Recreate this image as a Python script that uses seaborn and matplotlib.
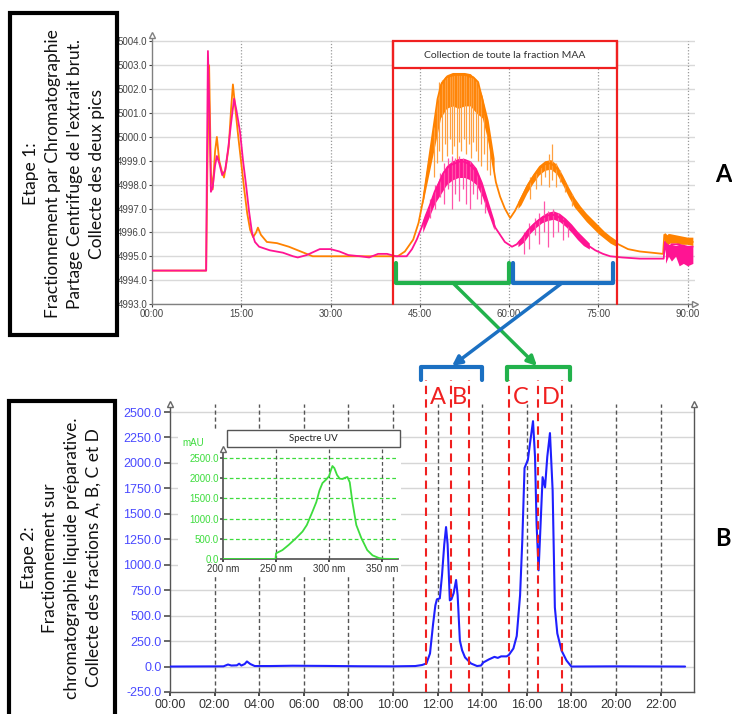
import matplotlib
matplotlib.use("Agg")
import matplotlib.pyplot as plt
import matplotlib.transforms as mtransforms
from matplotlib.patches import Rectangle
import seaborn as sns

W, H = 732, 714

# ---------- Etape 1 : CPC, temps en minutes ----------
orange_t = [0, 9.1, 9.3, 9.6, 9.9, 10.2, 10.6, 10.9, 11.3, 11.7, 12.1, 12.5, 12.9, 13.3,
            13.6, 14.0, 14.5, 15.0, 15.5, 16.0, 16.5, 17.0, 17.5, 17.8, 18.3, 19.3, 21,
            23, 25, 27, 30, 33, 36, 39, 41.3, 42.5, 43.9, 44.8, 45.6, 46.4, 47.2, 48.0,
            48.6, 49.5, 51, 52.5, 54, 54.8, 55.5, 56.2, 57.0, 57.8, 58.5, 59.3, 60.2, 61.0,
            62, 63, 64, 65, 66, 67, 68, 69, 70, 71, 72, 73, 74, 75, 76, 77, 78, 80, 82,
            84, 85.9, 86.1, 86.5, 86.9, 87.5, 88.5, 89.5, 90.9]
orange_v = [4994.4, 4994.4, 4998.5, 5003.0, 4998.5, 4997.8, 4999.4, 5000.0, 4999.0, 4998.6,
            4998.3, 4998.9, 4999.6, 5001.2, 5002.2, 5001.2, 5000.0, 4998.9, 4997.8, 4996.8,
            4996.1, 4995.8, 4996.0, 4996.2, 4995.9, 4995.6, 4995.55, 4995.4, 4995.2, 4995.0,
            4995.0, 4995.0, 4995.0, 4995.0, 4995.0, 4995.2, 4995.7, 4996.4, 4997.4, 4998.8,
            5000.2, 5001.6, 5002.2, 5002.5, 5002.6, 5002.6, 5002.5, 5002.3, 5001.6, 5000.6,
            4999.3, 4998.1, 4997.5, 4997.0, 4996.6, 4996.9, 4997.4, 4997.9, 4998.3, 4998.65,
            4998.85, 4998.9, 4998.7, 4998.25, 4997.75, 4997.3, 4996.95, 4996.65, 4996.4,
            4996.15, 4995.9, 4995.7, 4995.55, 4995.3, 4995.2, 4995.15, 4995.1, 4995.9,
            4995.6, 4995.9, 4995.7, 4995.75, 4995.65, 4995.6]

pink_t = [0, 9.1, 9.2, 9.4, 9.7, 9.9, 10.2, 10.6, 10.9, 11.3, 11.8, 12.3, 12.8, 13.3, 13.8,
          14.2, 14.8, 15.3, 15.8, 16.3, 16.8, 17.3, 18.0, 19.8, 22, 23.7, 24.5, 26, 28.2,
          30, 31.5, 33, 35, 36.5, 38, 39.5, 41, 42.8, 43.7, 44.5, 45.3, 46.0, 46.8, 47.5,
          48.3, 49.0, 50.0, 51.0, 52.0, 53.0, 54.0, 54.8, 55.5, 56.2, 57.0, 57.7, 58.5,
          59.3, 60.5, 61.3, 62.2, 63.2, 64.2, 65.2, 66.3, 67.3, 68.3, 69.3, 70.3, 71.3,
          72.3, 73.3, 74.5, 75.8, 77.0, 79, 82, 86.0, 86.2, 86.6, 87.3, 88.5, 89.5, 90.9]
pink_v = [4994.4, 4994.4, 4998.0, 5003.6, 5000.5, 4997.7, 4997.9, 4998.8, 4999.2, 4998.9,
          4998.4, 4998.6, 4999.5, 5000.6, 5001.6, 5001.1, 5000.2, 4999.0, 4998.0, 4996.9,
          4996.0, 4995.6, 4995.4, 4995.25, 4995.15, 4995.0, 4994.95, 4995.05, 4995.3,
          4995.3, 4995.2, 4995.05, 4995.0, 4994.95, 4995.1, 4995.1, 4995.0, 4995.0, 4995.3,
          4995.7, 4996.2, 4996.7, 4997.2, 4997.7, 4998.1, 4998.5, 4998.8, 4998.9, 4999.0,
          4998.9, 4998.7, 4998.4, 4997.9, 4997.3, 4996.7, 4996.2, 4995.9, 4995.6, 4995.4,
          4995.5, 4995.75, 4996.1, 4996.35, 4996.55, 4996.7, 4996.75, 4996.65, 4996.45,
          4996.2, 4995.9, 4995.65, 4995.45, 4995.25, 4995.1, 4995.0, 4994.95, 4994.9,
          4994.9, 4995.6, 4995.0, 4995.5, 4995.5, 4995.4, 4995.4]

# bruit du signal : enveloppes, par troncon
orange_band_t = [45.5, 46.5, 47.5, 48.5, 49.5, 50.5, 51.5, 52.5, 53.5, 54.5, 55.5, 56.5, 57.5]
orange_band_lo = [4997.2, 4998.4, 4999.6, 5000.8, 5001.2, 5001.3, 5001.2, 5001.3, 5001.3,
                  5001.0, 5000.8, 4999.8, 4998.5]
orange_band_hi = [4997.6, 4999.2, 5000.8, 5002.3, 5002.6, 5002.7, 5002.7, 5002.7, 5002.65,
                  5002.4, 5001.7, 5000.7, 4999.1]
orange_band2_t = [61.5, 62, 63, 64, 65, 66, 67, 68, 69, 70, 71, 72, 73, 74, 75, 76, 77, 78]
orange_band2_lo = [4997.0, 4997.15, 4997.65, 4998.05, 4998.4, 4998.6, 4998.65, 4998.45,
                   4998.0, 4997.5, 4997.05, 4996.75, 4996.45, 4996.2, 4995.95, 4995.75,
                   4995.55, 4995.42]
orange_band2_hi = [4997.3, 4997.55, 4998.05, 4998.45, 4998.8, 4999.0, 4999.05, 4998.85,
                   4998.4, 4997.9, 4997.45, 4997.1, 4996.8, 4996.55, 4996.3, 4996.05,
                   4995.85, 4995.68]
orange_band3_t = [86.1, 86.6, 87, 88, 89, 90, 90.9]
orange_band3_lo = [4995.5, 4995.45, 4995.55, 4995.55, 4995.5, 4995.5, 4995.45]
orange_band3_hi = [4996.0, 4995.9, 4995.95, 4995.9, 4995.85, 4995.8, 4995.8]

pink_band_t = [45.5, 46.5, 47.5, 48.5, 49.5, 50.5, 51.5, 52.5, 53.5, 54.5, 55.5, 56.5, 57.5]
pink_band_lo = [4996.0, 4996.6, 4997.2, 4997.6, 4998.0, 4998.2, 4998.3, 4998.3, 4998.2,
                4998.0, 4997.5, 4996.8, 4996.1]
pink_band_hi = [4996.5, 4997.1, 4997.8, 4998.4, 4998.8, 4999.0, 4999.1, 4999.1, 4999.0,
                4998.7, 4998.1, 4997.3, 4996.5]
pink_band2_t = [61.5, 62.5, 63.5, 64.5, 65.5, 66.5, 67.5, 68.5, 69.5, 70.5, 71.5, 72.5, 73.5]
pink_band2_lo = [4995.4, 4995.6, 4995.95, 4996.2, 4996.4, 4996.5, 4996.55, 4996.45, 4996.25,
                 4996.0, 4995.7, 4995.45, 4995.3]
pink_band2_hi = [4995.65, 4995.9, 4996.25, 4996.5, 4996.7, 4996.85, 4996.9, 4996.8, 4996.6,
                 4996.35, 4996.05, 4995.8, 4995.55]
pink_band3_t = [86.3, 86.8, 87.3, 88, 88.6, 89.3, 90, 90.9]
pink_band3_lo = [4994.7, 4995.0, 4994.8, 4995.0, 4994.6, 4994.7, 4994.6, 4994.7]
pink_band3_hi = [4995.6, 4995.5, 4995.5, 4995.45, 4995.5, 4995.5, 4995.45, 4995.4]

orange_spike_t = [47.4, 47.9, 48.3, 48.8, 49.2, 49.6, 50.0, 50.4, 50.8, 51.2, 51.6, 52.0, 52.4,
                  52.8, 53.2, 53.6, 54.0, 54.4, 54.8, 55.3, 55.8, 56.3, 56.8, 63.6, 64.5,
                  65.3, 66.0, 66.8, 67.3, 67.9, 68.6, 69.4, 70.6]
orange_spike_hi = [5000.4, 5001.6, 5002.3, 5002.4, 5002.5, 5002.6, 5002.6, 5002.6, 5002.6,
                   5002.6, 5002.6, 5002.6, 5002.6, 5002.6, 5002.5, 5002.5, 5002.5, 5002.4,
                   5002.3, 5001.8, 5001.0, 5000.2, 4999.6, 4998.3, 4998.5, 4998.8, 4998.9,
                   4999.3, 4999.7, 4998.9, 4998.6, 4998.1, 4997.6]
orange_spike_lo = [4998.3, 4998.9, 4999.4, 4999.0, 4999.7, 4999.2, 4999.9, 4999.3, 4999.6,
                   4999.0, 4999.8, 4999.4, 4999.9, 4999.3, 4999.7, 4999.1, 4999.8, 4999.4,
                   4999.0, 4998.8, 4999.3, 4998.6, 4998.4, 4997.4, 4997.8, 4998.0, 4998.3,
                   4997.9, 4998.2, 4997.9, 4998.1, 4997.7, 4997.1]
pink_spike_t = [46.8, 47.6, 48.4, 49.1, 49.8, 50.4, 51.0, 51.6, 52.2, 52.8, 53.4, 54.0, 54.6,
                55.3, 56.0, 62.6, 63.4, 64.3, 65.1, 65.9, 66.6, 67.4, 68.2, 69.0, 69.9]
pink_spike_hi = [4997.4, 4998.0, 4998.5, 4998.9, 4999.1, 4999.2, 4999.1, 4999.2, 4999.1,
                 4999.0, 4999.0, 4998.8, 4998.5, 4998.1, 4997.5, 4996.0, 4996.4, 4996.6,
                 4996.8, 4997.3, 4996.9, 4997.0, 4996.8, 4996.6, 4996.3]
pink_spike_lo = [4996.6, 4997.0, 4997.5, 4997.2, 4997.8, 4997.0, 4997.6, 4997.3, 4997.8,
                 4997.2, 4997.0, 4997.6, 4997.4, 4997.2, 4996.8, 4995.1, 4995.3, 4995.9,
                 4995.5, 4996.0, 4995.4, 4995.8, 4996.0, 4995.7, 4995.8]

top_xticks = [0, 15, 30, 45, 60, 75, 90]
top_xlabels = ["00:00", "15:00", "30:00", "45:00", "60:00", "75:00", "90:00"]
top_yticks = [4993.0, 4994.0, 4995.0, 4996.0, 4997.0, 4998.0, 4999.0, 5000.0, 5001.0,
              5002.0, 5003.0, 5004.0]
maa_start, maa_end = 40.5, 78.1

# ---------- Etape 2 : CLHP preparative ----------
hplc_t = [0, 2.4, 2.6, 2.75, 3.0, 3.1, 3.2, 3.35, 3.45, 3.6, 3.8, 4.5, 5.5, 7, 8.5, 10, 11.0,
          11.3, 11.5, 11.66, 11.8, 11.9, 11.97, 12.1, 12.2, 12.3, 12.38, 12.45, 12.55, 12.62,
          12.72, 12.83, 12.9, 13.0, 13.1, 13.23, 13.5, 13.77, 13.95, 14.05, 14.3, 14.55,
          14.7, 14.85, 15.1, 15.2, 15.4, 15.55, 15.7, 15.8, 15.9, 16.05, 16.15, 16.28,
          16.37, 16.44, 16.53, 16.62, 16.71, 16.82, 16.92, 17.04, 17.16, 17.26, 17.37,
          17.56, 17.78, 18.0, 20, 23.1]
hplc_v = [0, 2, 20, 10, 12, 28, 10, 25, 50, 25, 5, 5, 8, 6, 3, 2, 5, 15, 30, 128, 420, 600,
          660, 670, 900, 1200, 1370, 1200, 650, 660, 720, 850, 700, 255, 160, 90, 30, 5, 10,
          40, 70, 95, 85, 100, 100, 115, 177, 300, 700, 1240, 1950, 2030, 2200, 2410, 2060,
          1400, 945, 1400, 1860, 1760, 2060, 2293, 1730, 580, 325, 157, 60, 0, 2, 0]

bot_xticks = [0, 2, 4, 6, 8, 10, 12, 14, 16, 18, 20, 22]
bot_xlabels = ["00:00", "02:00", "04:00", "06:00", "08:00", "10:00", "12:00", "14:00",
               "16:00", "18:00", "20:00", "22:00"]
bot_yticks = [-250, 0, 250, 500, 750, 1000, 1250, 1500, 1750, 2000, 2250, 2500]

frac_cuts = [11.48, 12.6, 13.41, 15.2, 16.5, 17.58]
frac_names = ["A", "B", "C", "D"]
frac_label_t = [12.0, 12.96, 15.74, 17.08]

# spectre UV
uv_nm = [200, 249.5, 250, 256, 262, 269, 275, 279, 284, 288, 291, 293.8, 297, 300, 301.5,
         303.2, 305, 307.5, 310, 312.6, 315, 317.3, 319.5, 322, 325.7, 330.4, 336, 341,
         347, 352, 365]
uv_mau = [0, 0, 140, 220, 350, 520, 680, 840, 1150, 1410, 1700, 1880, 1960, 2050, 2180,
          2302, 2250, 2080, 1990, 1980, 2010, 2030, 1900, 1410, 840, 520, 220, 90, 25, 5, 0]
uv_xticks = [200, 250, 300, 350]
uv_xlabels = ["200 nm", "250 nm", "300 nm", "350 nm"]
uv_yticks = [0, 500, 1000, 1500, 2000, 2500]

ORANGE = "#ff8200"
PINK = "#ff1493"
BLUE = "#1f1fff"
UVGREEN = "#3ddc3d"
RED = "#f02020"
BR_GREEN = "#22b24c"
BR_BLUE = "#1b70c2"

sns.set_theme(style="white")
plt.rcParams["font.family"] = ["Liberation Sans", "DejaVu Sans"]
CAL = ["Lato", "DejaVu Sans"]


def px_rect(left, top, right, bottom):
    return [left / W, (H - bottom) / H, (right - left) / W, (bottom - top) / H]


fig = plt.figure(figsize=(W / 100, H / 100), dpi=100)

# ==================== panneau du haut ====================
ax1 = fig.add_axes(px_rect(152, 35, 695, 304))
ax1.set_xlim(0, 91.26)
ax1.set_ylim(4993, 5004.27)
for v in top_yticks:
    ax1.axhline(v, color="#d9d9d9", lw=1, zorder=0)
for t in top_xticks[1:]:
    ax1.plot([t, t], [4993, 5004], color="#9a9a9a", lw=0.9, ls=(0, (1, 1.5)), zorder=0.5)

for bt, blo, bhi in [(orange_band_t, orange_band_lo, orange_band_hi),
                     (orange_band2_t, orange_band2_lo, orange_band2_hi),
                     (orange_band3_t, orange_band3_lo, orange_band3_hi)]:
    ax1.fill_between(bt, blo, bhi, color=ORANGE, lw=0, zorder=2)
ax1.vlines(orange_spike_t, orange_spike_lo, orange_spike_hi, color="#ffa040", lw=0.9, zorder=2)
sns.lineplot(x=orange_t, y=orange_v, ax=ax1, color=ORANGE, lw=1.3, zorder=2)
for bt, blo, bhi in [(pink_band_t, pink_band_lo, pink_band_hi),
                     (pink_band2_t, pink_band2_lo, pink_band2_hi),
                     (pink_band3_t, pink_band3_lo, pink_band3_hi)]:
    ax1.fill_between(bt, blo, bhi, color=PINK, lw=0, zorder=3)
ax1.vlines(pink_spike_t, pink_spike_lo, pink_spike_hi, color="#ff55aa", lw=0.9, zorder=3)
sns.lineplot(x=pink_t, y=pink_v, ax=ax1, color=PINK, lw=1.3, zorder=3)

# cadre "Collection de toute la fraction MAA"
ax1.add_patch(Rectangle((maa_start, 5002.87), maa_end - maa_start, 5004 - 5002.87,
                        facecolor="white", edgecolor=RED, lw=1.6, zorder=4))
ax1.plot([maa_start, maa_start], [4993, 5004], color=RED, lw=1.6, zorder=4, clip_on=False)
ax1.plot([maa_end, maa_end], [4993, 5004], color=RED, lw=1.6, zorder=4, clip_on=False)
ax1.text((maa_start + maa_end) / 2, 5003.43, "Collection de toute la fraction MAA",
         ha="center", va="center", fontsize=7.5, family=CAL, color="#333333", zorder=5)

ax1.set_xticks(top_xticks)
ax1.set_xticklabels(top_xlabels)
ax1.set_yticks(top_yticks)
ax1.set_yticklabels([f"{v:.1f}" for v in top_yticks])
ax1.tick_params(axis="both", labelsize=7, colors="#444444", length=2, width=0.8,
                bottom=True, left=True, pad=1.5)
ax1.set_xlabel("")
ax1.set_ylabel("")
for s in ["top", "right"]:
    ax1.spines[s].set_visible(False)
for s in ["left", "bottom"]:
    ax1.spines[s].set_color("#808080")
    ax1.spines[s].set_linewidth(1)
ax1.plot([0], [1], marker="^", ms=5, mfc="white", mec="#808080", transform=ax1.transAxes,
         clip_on=False, zorder=6)
ax1.plot([1], [0], marker=">", ms=5, mfc="white", mec="#808080", transform=ax1.transAxes,
         clip_on=False, zorder=6)

# ==================== panneau du bas ====================
ax2 = fig.add_axes(px_rect(170, 404, 694, 692), zorder=0)
ax2.set_xlim(0, 23.5)
ax2.set_ylim(-250, 2578.6)
for v in bot_yticks:
    ax2.axhline(v, color="#d6d6d6", lw=1, zorder=0)
for t in bot_xticks[1:]:
    ax2.axvline(t, color="#555555", lw=1, ls=(0, (3, 2)), zorder=0.5)
sns.lineplot(x=hplc_t, y=hplc_v, ax=ax2, color=BLUE, lw=1.5, zorder=3)

ymax_cut = (692 - 380) / (692 - 404)
for c in frac_cuts:
    ax2.axvline(c, ymin=0, ymax=ymax_cut, color=RED, lw=1.5, ls=(0, (4, 2.5)),
                clip_on=False, zorder=4)
blend = mtransforms.blended_transform_factory(ax2.transData, ax2.transAxes)
for name, t in zip(frac_names, frac_label_t):
    ax2.text(t, (692 - 398) / (692 - 404), name, transform=blend, ha="center", va="center",
             fontsize=17, color=RED, family=CAL, zorder=5)

ax2.set_xticks(bot_xticks)
ax2.set_xticklabels(bot_xlabels)
ax2.set_yticks(bot_yticks)
ax2.set_yticklabels([f"{v:.1f}" for v in bot_yticks])
ax2.tick_params(axis="x", labelsize=9, colors="#333333", length=3, bottom=True, pad=2)
ax2.tick_params(axis="y", labelsize=9, labelcolor="#4a4aff", color="#555555", length=4,
                left=True, pad=2)
ax2.set_xlabel("")
ax2.set_ylabel("")
ax2.spines["top"].set_visible(False)
for s in ["left", "bottom", "right"]:
    ax2.spines[s].set_color("#555555")
    ax2.spines[s].set_linewidth(1)
for xa in [0, 1]:
    ax2.plot([xa], [1], marker="^", ms=5, mfc="white", mec="#666666",
             transform=ax2.transAxes, clip_on=False, zorder=6)

# fond blanc sous l'encart
fig.add_artist(Rectangle((178 / W, (H - 577) / H), (401 - 178) / W, (577 - 429) / H,
                         transform=fig.transFigure, facecolor="white", edgecolor="none",
                         zorder=1))

# ==================== encart spectre UV ====================
ax3 = fig.add_axes(px_rect(223, 449, 398, 559), zorder=2)
ax3.set_facecolor("white")
ax3.set_xlim(200, 365)
ax3.set_ylim(0, 2723)
for v in uv_yticks[1:]:
    ax3.axhline(v, color=UVGREEN, lw=0.9, ls=(0, (3, 2)), zorder=0)
for t in uv_xticks[1:]:
    ax3.axvline(t, color="#555555", lw=0.9, ls=(0, (3, 2)), zorder=0.5)
sns.lineplot(x=uv_nm, y=uv_mau, ax=ax3, color=UVGREEN, lw=1.3, zorder=3)
ax3.set_xticks(uv_xticks)
ax3.set_xticklabels(uv_xlabels)
ax3.set_yticks(uv_yticks)
ax3.set_yticklabels([f"{v:.1f}" for v in uv_yticks])
ax3.tick_params(axis="x", labelsize=7, colors="#333333", length=2, bottom=True, pad=1.5)
ax3.tick_params(axis="y", labelsize=7, labelcolor=UVGREEN, color="#555555", length=2,
                left=True, pad=1)
ax3.set_xlabel("")
ax3.set_ylabel("")
for s in ["top", "right"]:
    ax3.spines[s].set_visible(False)
for s in ["left", "bottom"]:
    ax3.spines[s].set_color("#555555")
ax3.plot([0], [1], marker="^", ms=4, mfc="white", mec="#666666", transform=ax3.transAxes,
         clip_on=False, zorder=6)

# ==================== annotations (coordonnees pixel) ====================
ov = fig.add_axes([0, 0, 1, 1], zorder=3)
ov.set_xlim(0, W)
ov.set_ylim(H, 0)
ov.axis("off")

# boites de texte a gauche
ov.add_patch(Rectangle((10, 13), 107, 322, facecolor="white", edgecolor="black", lw=3))
ov.add_patch(Rectangle((9, 401), 106, 330, facecolor="white", edgecolor="black", lw=3,
                       clip_on=False))
ov.text(64, 174, "Etape 1:\nFractionnement par Chromatographie\nPartage Centrifuge de l'extrait brut.\nCollecte des deux pics",
        rotation=90, ha="center", va="center", multialignment="center", fontsize=12.5,
        family=CAL, linespacing=1.45, color="#111111")
ov.text(61, 558, "Etape 2:\nFractionnement sur\nchromatographie liquide préparative.\nCollecte des fractions A, B, C et D",
        rotation=90, ha="center", va="center", multialignment="center", fontsize=12.5,
        family=CAL, linespacing=1.42, color="#111111")

ov.text(723, 175, "A", ha="center", va="center", fontsize=17, fontweight="bold",
        family=CAL, color="black")
ov.text(723, 538, "B", ha="center", va="center", fontsize=17, fontweight="bold",
        family=CAL, color="black")

# titre de l'encart
ov.add_patch(Rectangle((227, 430), 173, 17, facecolor="white", edgecolor="#555555", lw=1))
ov.text(313, 438.5, "Spectre UV", ha="center", va="center", fontsize=7, family=CAL,
        color="#222222")
ov.text(193, 443, "mAU", ha="center", va="center", fontsize=7, color=UVGREEN)

# accolades et fleches
br = dict(lw=3, solid_joinstyle="round", solid_capstyle="round")
ov.plot([396, 396, 509, 509], [263, 283, 283, 263], color=BR_GREEN, **br)
ov.plot([513, 513, 613, 613], [263, 283, 283, 263], color=BR_BLUE, **br)
ov.plot([421, 421, 482, 482], [380, 367, 367, 380], color=BR_BLUE, **br)
ov.plot([507, 507, 570, 570], [380, 367, 367, 380], color=BR_GREEN, **br)
ov.annotate("", xy=(537, 366), xytext=(453, 283),
            arrowprops=dict(arrowstyle="-|>", color=BR_GREEN, lw=2.5, mutation_scale=14,
                            shrinkA=0, shrinkB=0))
ov.annotate("", xy=(452, 366), xytext=(562, 283),
            arrowprops=dict(arrowstyle="-|>", color=BR_BLUE, lw=2.5, mutation_scale=14,
                            shrinkA=0, shrinkB=0))

fig.savefig("out.png", dpi=100)
